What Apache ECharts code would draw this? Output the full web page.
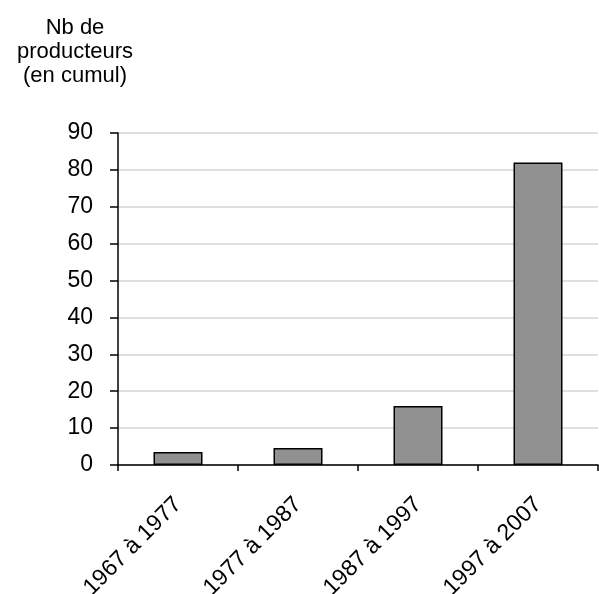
<!DOCTYPE html>
<html>
<head>
<meta charset="utf-8">
<script src="https://cdn.jsdelivr.net/npm/echarts@6/dist/echarts.min.js"></script>
<style>
html,body{margin:0;padding:0;background:#fff;}
#chart{width:599px;height:594px;}
</style>
</head>
<body>
<div id="chart"></div>
<script>
const categories = ["1967 à 1977", "1977 à 1987", "1987 à 1997", "1997 à 2007"];
const producers = [3.5, 4.6, 16, 82];
const yTitle = "Nb de\nproducteurs\n(en cumul)";

const chart = echarts.init(document.getElementById('chart'), null, {renderer: 'canvas'});
const font = '"Liberation Sans", Arial, sans-serif';
chart.setOption({
  animation: false,
  backgroundColor: '#ffffff',
  title: {
    text: yTitle,
    left: 70,
    top: 11,
    textAlign: 'center',
    textStyle: {fontFamily: font, fontSize: 22, fontWeight: 'normal', color: '#000', lineHeight: 24}
  },
  grid: {left: 118, right: 1, top: 133, bottom: 129, containLabel: false, outerBoundsMode: 'none'},
  xAxis: {
    type: 'category',
    data: categories,
    axisLine: {lineStyle: {color: '#000', width: 1.5}},
    axisTick: {show: true, length: 6, lineStyle: {color: '#000', width: 1.5}},
    axisLabel: {rotate: 45, margin: 36, fontFamily: font, fontSize: 23, color: '#000'},
    splitLine: {show: false}
  },
  yAxis: {
    type: 'value',
    min: 0, max: 90, interval: 10,
    axisLine: {show: true, lineStyle: {color: '#000', width: 1.5}},
    axisTick: {show: true, length: 8, lineStyle: {color: '#000', width: 1.5}},
    axisLabel: {margin: 25, fontFamily: font, fontSize: 23, color: '#000'},
    splitLine: {show: true, lineStyle: {color: '#d4d4d4', width: 1.5}}
  },
  series: [{
    type: 'bar',
    data: producers,
    barWidth: 49,
    itemStyle: {color: '#919191', borderColor: '#000', borderWidth: 1.5}
  }]
});
</script>
</body>
</html>
